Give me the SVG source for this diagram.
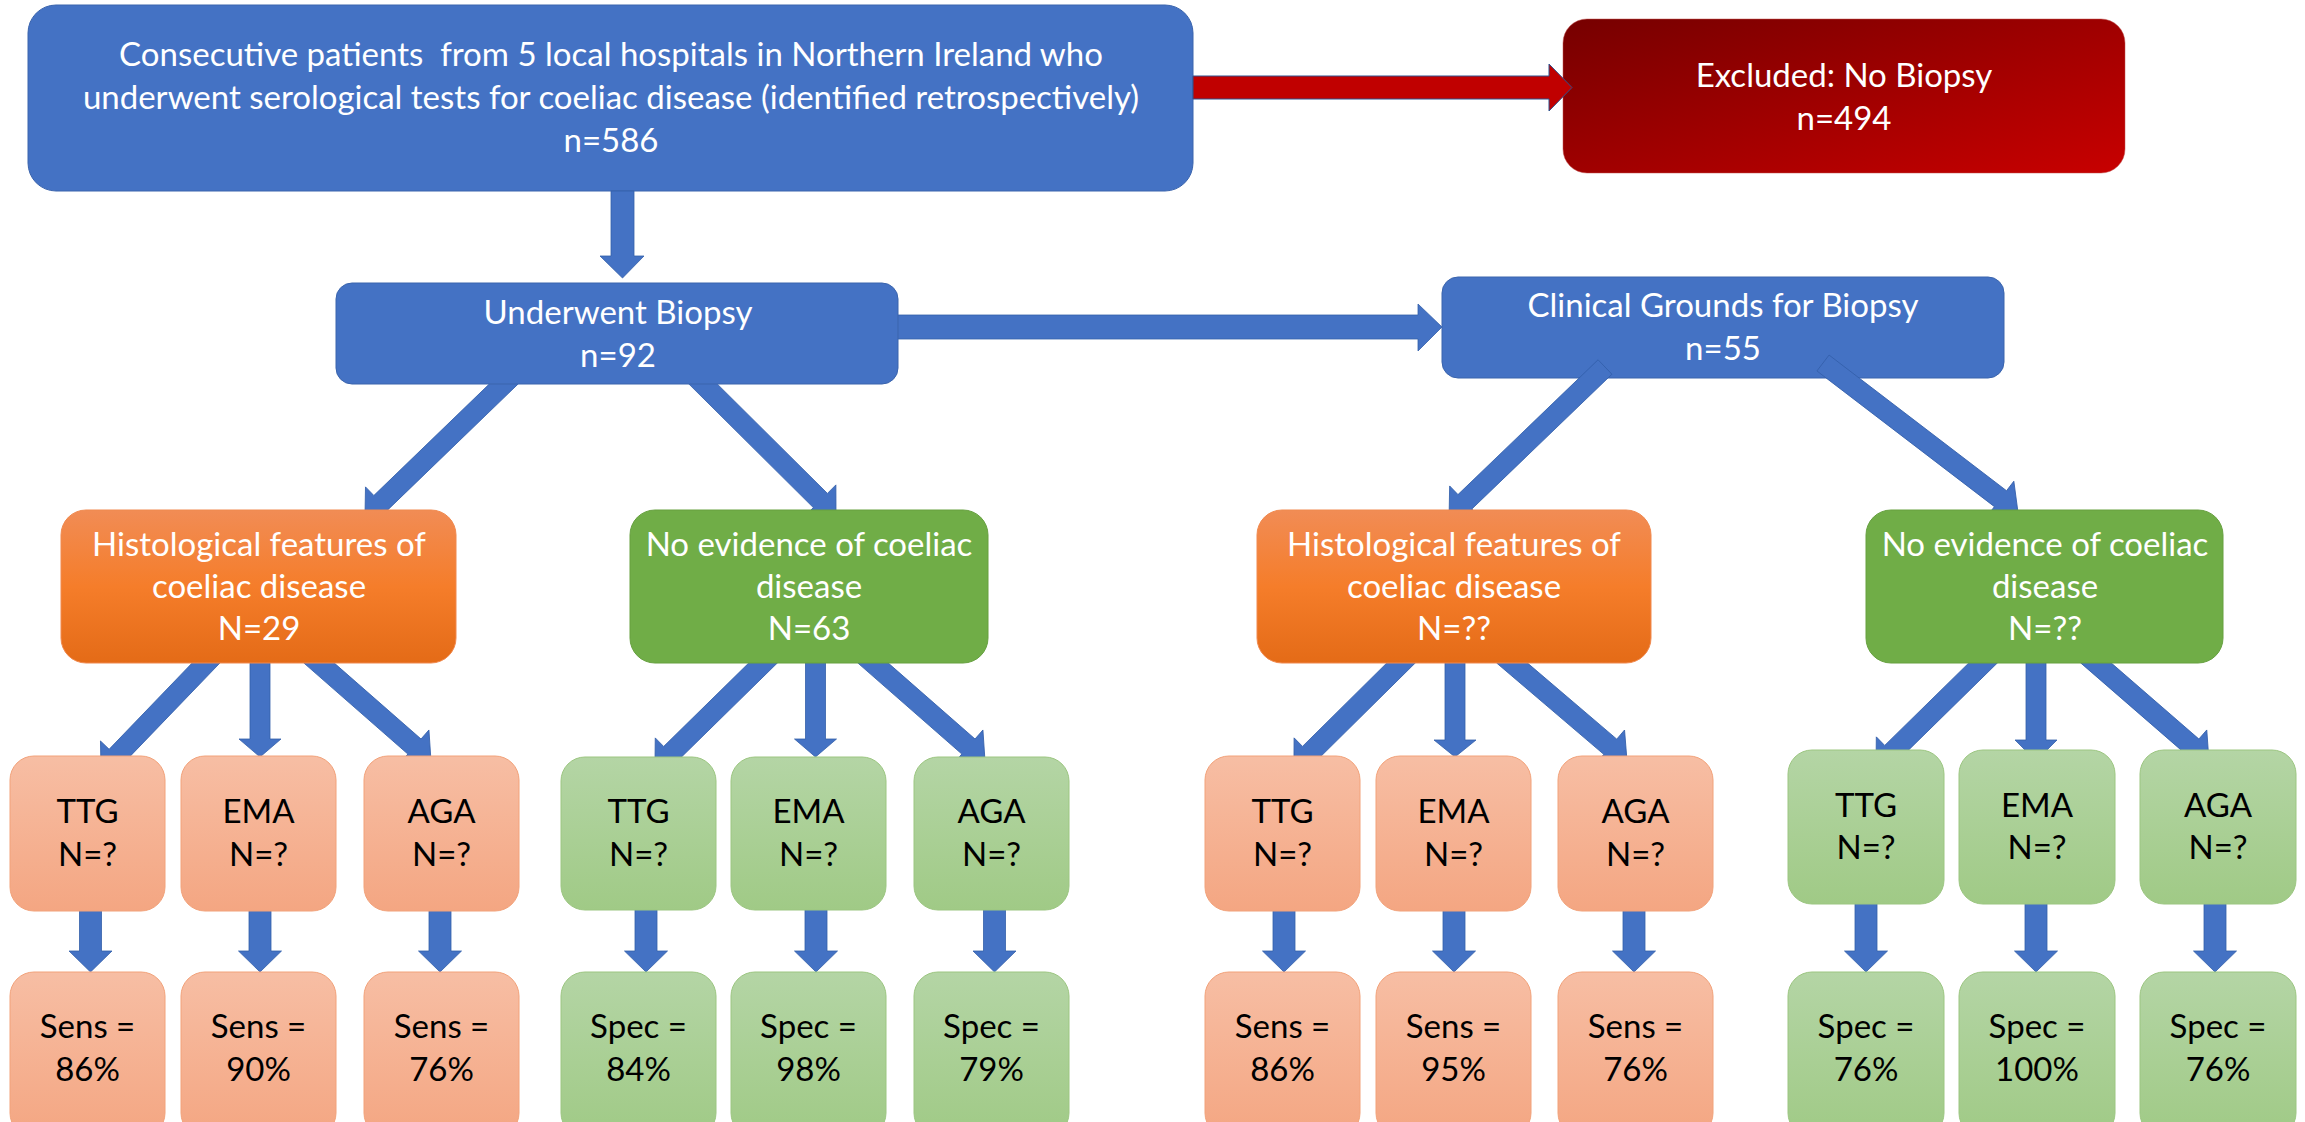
<svg xmlns="http://www.w3.org/2000/svg" width="2305" height="1122" viewBox="0 0 2305 1122">
<defs>
<linearGradient id="gRed" x1="0" y1="0" x2="1" y2="1"><stop offset="0" stop-color="#760000"/><stop offset="1" stop-color="#C80000"/></linearGradient>
<linearGradient id="gOr" x1="0" y1="0" x2="0" y2="1"><stop offset="0" stop-color="#F18C55"/><stop offset="0.5" stop-color="#F57D2A"/><stop offset="1" stop-color="#E46B17"/></linearGradient>
<linearGradient id="gOrL" x1="0" y1="0" x2="0" y2="1"><stop offset="0" stop-color="#F7BEA4"/><stop offset="1" stop-color="#F4A682"/></linearGradient>
<linearGradient id="gGrL" x1="0" y1="0" x2="0" y2="1"><stop offset="0" stop-color="#B4D5A5"/><stop offset="1" stop-color="#A0CA86"/></linearGradient>
<style>
.blue{fill:#4472C4;stroke:#3A64AD;stroke-width:1}
.red{fill:url(#gRed);stroke:#C0504D;stroke-width:0.5}
.or{fill:url(#gOr);stroke:#F0894E;stroke-width:1}
.gr{fill:#70AD47;stroke:#66A03F;stroke-width:1}
.orl{fill:url(#gOrL);stroke:#F2A27A;stroke-width:1}
.grl{fill:url(#gGrL);stroke:#9CC681;stroke-width:1}
.arr{fill:#4472C4;stroke:#335FAA;stroke-width:0.8}
.arrR{fill:#C00000;stroke:#2F528F;stroke-width:1}
text{font-family:Lato,"Liberation Sans",sans-serif;font-size:33px;text-anchor:middle}
.w{fill:#FFFFFF}
.k{fill:#000000}
</style>
</defs>

<g id="node-start">
<rect class="blue" x="28" y="5" width="1165" height="186" rx="28"/>
<text class="w" x="611" y="66" style="white-space:pre">Consecutive patients  from 5 local hospitals in Northern Ireland who</text>
<text class="w" x="611" y="109">underwent serological tests for coeliac disease (identified retrospectively)</text>
<text class="w" x="611" y="152">n=586</text>
</g>

<g id="node-excluded">
<rect class="red" x="1563" y="19" width="562" height="154" rx="24"/>
<text class="w" x="1844" y="87">Excluded: No Biopsy</text>
<text class="w" x="1844" y="130">n=494</text>
</g>

<g id="node-clinical">
<rect class="blue" x="1442" y="277" width="562" height="101" rx="16"/>
<text class="w" x="1723" y="317">Clinical Grounds for Biopsy</text>
<text class="w" x="1723" y="360">n=55</text>
</g>

<g id="connectors">
<polygon class="arr" points="611,191 634,191 634,256 644,256 622.5,278 600,256 611,256"/>
<polygon class="arrR" points="1193,76 1549,76 1549,64 1572,87.5 1549,111 1549,99 1193,99"/>
<polygon class="arr" points="890,315 1418,315 1418,304 1442,327 1418,351 1418,339 890,339"/>
<polygon class="arr" transform="translate(512,376) rotate(136)" points="0,-10 182.4,-10 182.4,-22 204.4,0 182.4,22 182.4,10 0,10"/>
<polygon class="arr" transform="translate(694.5,375.5) rotate(44.8)" points="0,-10 177.4,-10 177.4,-22 199.4,0 177.4,22 177.4,10 0,10"/>
<polygon class="arr" transform="translate(1605,367) rotate(136.1)" points="0,-10 194.4,-10 194.4,-22 216.4,0 194.4,22 194.4,10 0,10"/>
<polygon class="arr" transform="translate(1823,363) rotate(37.4)" points="0,-10 223.4,-10 223.4,-22 245.4,0 223.4,22 223.4,10 0,10"/>
<polygon class="arr" transform="translate(214.3,654.4) rotate(133.9)" points="0,-10 141.3,-10 141.3,-22 163.3,0 141.3,22 141.3,10 0,10"/>
<polygon class="arr" points="250,655 270,655 270,739 281,739 260,757 239,739 250,739"/>
<polygon class="arr" transform="translate(310,655.1) rotate(41.2)" points="0,-10 138.8,-10 138.8,-22 160.8,0 138.8,22 138.8,10 0,10"/>
<polygon class="arr" transform="translate(771.6,654.6) rotate(135.55)" points="0,-10 141.4,-10 141.4,-22 163.4,0 141.4,22 141.4,10 0,10"/>
<polygon class="arr" points="805.5,655 825.5,655 825.5,739 836.5,739 815.5,757 794.5,739 805.5,739"/>
<polygon class="arr" transform="translate(864,655.1) rotate(41.2)" points="0,-10 138.8,-10 138.8,-22 160.8,0 138.8,22 138.8,10 0,10"/>
<polygon class="arr" transform="translate(1409.5,654.6) rotate(135.3)" points="0,-10 140.6,-10 140.6,-22 162.6,0 140.6,22 140.6,10 0,10"/>
<polygon class="arr" points="1445,655 1465,655 1465,740 1476,740 1455,757 1434,740 1445,740"/>
<polygon class="arr" transform="translate(1502.9,655.2) rotate(40.45)" points="0,-10 141.1,-10 141.1,-22 163.1,0 141.1,22 141.1,10 0,10"/>
<polygon class="arr" transform="translate(1991.6,654.6) rotate(135.55)" points="0,-10 139.9,-10 139.9,-22 161.9,0 139.9,22 139.9,10 0,10"/>
<polygon class="arr" points="2026,655 2046,655 2046,740 2057,740 2036,761 2015,740 2026,740"/>
<polygon class="arr" transform="translate(2086.9,655.1) rotate(40.94)" points="0,-10 139.6,-10 139.6,-22 161.6,0 139.6,22 139.6,10 0,10"/>
<polygon class="arr" points="79.5,905 101.5,905 101.5,951 112,951 90.5,972 69,951 79.5,951"/>
<polygon class="arr" points="249,905 271,905 271,951 281.5,951 260,972 238.5,951 249,951"/>
<polygon class="arr" points="429,905 451,905 451,951 461.5,951 440,972 418.5,951 429,951"/>
<polygon class="arr" points="635,905 657,905 657,951 667.5,951 646,972 624.5,951 635,951"/>
<polygon class="arr" points="805,905 827,905 827,951 837.5,951 816,972 794.5,951 805,951"/>
<polygon class="arr" points="983.5,905 1005.5,905 1005.5,951 1016,951 994.5,972 973,951 983.5,951"/>
<polygon class="arr" points="1273,905 1295,905 1295,951 1305.5,951 1284,972 1262.5,951 1273,951"/>
<polygon class="arr" points="1443,905 1465,905 1465,951 1475.5,951 1454,972 1432.5,951 1443,951"/>
<polygon class="arr" points="1623,905 1645,905 1645,951 1655.5,951 1634,972 1612.5,951 1623,951"/>
<polygon class="arr" points="1855,898 1877,898 1877,951 1887.5,951 1866,972 1844.5,951 1855,951"/>
<polygon class="arr" points="2025,898 2047,898 2047,951 2057.5,951 2036,972 2014.5,951 2025,951"/>
<polygon class="arr" points="2204,898 2226,898 2226,951 2236.5,951 2215,972 2193.5,951 2204,951"/>
</g>

<g id="node-biopsy">
<rect class="blue" x="336" y="283" width="562" height="101" rx="16"/>
<text class="w" x="618" y="324">Underwent Biopsy</text>
<text class="w" x="618" y="367">n=92</text>
</g>

<g id="node-hist-left">
<rect class="or" x="61" y="510" width="395" height="153" rx="25"/>
<text class="w" x="259" y="556">Histological features of</text>
<text class="w" x="259" y="598">coeliac disease</text>
<text class="w" x="259" y="640">N=29</text>
</g>
<g id="node-noev-left">
<rect class="gr" x="630" y="510" width="358" height="153" rx="25"/>
<text class="w" x="809" y="556">No evidence of coeliac</text>
<text class="w" x="809" y="598">disease</text>
<text class="w" x="809" y="640">N=63</text>
</g>
<g id="node-hist-right">
<rect class="or" x="1257" y="510" width="394" height="153" rx="25"/>
<text class="w" x="1454" y="556">Histological features of</text>
<text class="w" x="1454" y="598">coeliac disease</text>
<text class="w" x="1454" y="640">N=??</text>
</g>
<g id="node-noev-right">
<rect class="gr" x="1866" y="510" width="357" height="153" rx="25"/>
<text class="w" x="2045" y="556">No evidence of coeliac</text>
<text class="w" x="2045" y="598">disease</text>
<text class="w" x="2045" y="640">N=??</text>
</g>

<g id="node-ttg-hl"><rect class="orl" x="10" y="756" width="155" height="155" rx="24"/><text class="k" x="87.5" y="823">TTG</text><text class="k" x="87.5" y="866">N=?</text></g>
<g id="node-ema-hl"><rect class="orl" x="181" y="756" width="155" height="155" rx="24"/><text class="k" x="258.5" y="823">EMA</text><text class="k" x="258.5" y="866">N=?</text></g>
<g id="node-aga-hl"><rect class="orl" x="364" y="756" width="155" height="155" rx="24"/><text class="k" x="441.5" y="823">AGA</text><text class="k" x="441.5" y="866">N=?</text></g>
<g id="node-ttg-nl"><rect class="grl" x="561" y="757" width="155" height="153" rx="24"/><text class="k" x="638.5" y="823">TTG</text><text class="k" x="638.5" y="866">N=?</text></g>
<g id="node-ema-nl"><rect class="grl" x="731" y="757" width="155" height="153" rx="24"/><text class="k" x="808.5" y="823">EMA</text><text class="k" x="808.5" y="866">N=?</text></g>
<g id="node-aga-nl"><rect class="grl" x="914" y="757" width="155" height="153" rx="24"/><text class="k" x="991.5" y="823">AGA</text><text class="k" x="991.5" y="866">N=?</text></g>
<g id="node-ttg-hr"><rect class="orl" x="1205" y="756" width="155" height="155" rx="24"/><text class="k" x="1282.5" y="823">TTG</text><text class="k" x="1282.5" y="866">N=?</text></g>
<g id="node-ema-hr"><rect class="orl" x="1376" y="756" width="155" height="155" rx="24"/><text class="k" x="1453.5" y="823">EMA</text><text class="k" x="1453.5" y="866">N=?</text></g>
<g id="node-aga-hr"><rect class="orl" x="1558" y="756" width="155" height="155" rx="24"/><text class="k" x="1635.5" y="823">AGA</text><text class="k" x="1635.5" y="866">N=?</text></g>
<g id="node-ttg-nr"><rect class="grl" x="1788" y="750" width="156" height="154" rx="24"/><text class="k" x="1866" y="817">TTG</text><text class="k" x="1866" y="859">N=?</text></g>
<g id="node-ema-nr"><rect class="grl" x="1959" y="750" width="156" height="154" rx="24"/><text class="k" x="2037" y="817">EMA</text><text class="k" x="2037" y="859">N=?</text></g>
<g id="node-aga-nr"><rect class="grl" x="2140" y="750" width="156" height="154" rx="24"/><text class="k" x="2218" y="817">AGA</text><text class="k" x="2218" y="859">N=?</text></g>

<g id="node-sens-ttg-l"><rect class="orl" x="10" y="972" width="155" height="165" rx="24"/><text class="k" x="87.5" y="1038">Sens =</text><text class="k" x="87.5" y="1081">86%</text></g>
<g id="node-sens-ema-l"><rect class="orl" x="181" y="972" width="155" height="165" rx="24"/><text class="k" x="258.5" y="1038">Sens =</text><text class="k" x="258.5" y="1081">90%</text></g>
<g id="node-sens-aga-l"><rect class="orl" x="364" y="972" width="155" height="165" rx="24"/><text class="k" x="441.5" y="1038">Sens =</text><text class="k" x="441.5" y="1081">76%</text></g>
<g id="node-spec-ttg-l"><rect class="grl" x="561" y="972" width="155" height="165" rx="24"/><text class="k" x="638.5" y="1038">Spec =</text><text class="k" x="638.5" y="1081">84%</text></g>
<g id="node-spec-ema-l"><rect class="grl" x="731" y="972" width="155" height="165" rx="24"/><text class="k" x="808.5" y="1038">Spec =</text><text class="k" x="808.5" y="1081">98%</text></g>
<g id="node-spec-aga-l"><rect class="grl" x="914" y="972" width="155" height="165" rx="24"/><text class="k" x="991.5" y="1038">Spec =</text><text class="k" x="991.5" y="1081">79%</text></g>
<g id="node-sens-ttg-r"><rect class="orl" x="1205" y="972" width="155" height="165" rx="24"/><text class="k" x="1282.5" y="1038">Sens =</text><text class="k" x="1282.5" y="1081">86%</text></g>
<g id="node-sens-ema-r"><rect class="orl" x="1376" y="972" width="155" height="165" rx="24"/><text class="k" x="1453.5" y="1038">Sens =</text><text class="k" x="1453.5" y="1081">95%</text></g>
<g id="node-sens-aga-r"><rect class="orl" x="1558" y="972" width="155" height="165" rx="24"/><text class="k" x="1635.5" y="1038">Sens =</text><text class="k" x="1635.5" y="1081">76%</text></g>
<g id="node-spec-ttg-r"><rect class="grl" x="1788" y="972" width="156" height="165" rx="24"/><text class="k" x="1866" y="1038">Spec =</text><text class="k" x="1866" y="1081">76%</text></g>
<g id="node-spec-ema-r"><rect class="grl" x="1959" y="972" width="156" height="165" rx="24"/><text class="k" x="2037" y="1038">Spec =</text><text class="k" x="2037" y="1081">100%</text></g>
<g id="node-spec-aga-r"><rect class="grl" x="2140" y="972" width="156" height="165" rx="24"/><text class="k" x="2218" y="1038">Spec =</text><text class="k" x="2218" y="1081">76%</text></g>
</svg>
